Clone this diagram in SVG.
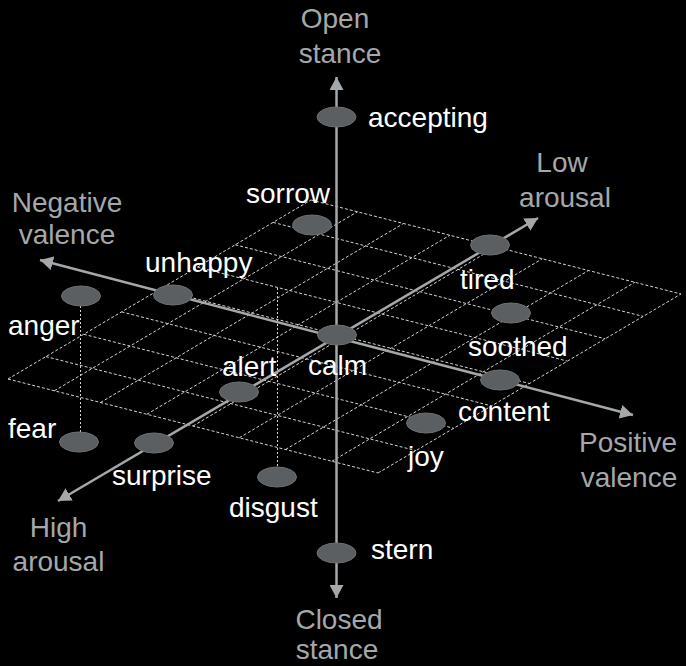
<svg xmlns="http://www.w3.org/2000/svg" width="686" height="666" viewBox="0 0 686 666">
<style>
.grid line{stroke:#d4d4d4;stroke-width:1;stroke-dasharray:3 2;fill:none}
.drop{stroke:#d4d4d4;stroke-width:1;stroke-dasharray:2 2;fill:none}
.axis{stroke:#a4a8aa;stroke-width:2.5;fill:none}
.node ellipse{fill:#5b5f62;stroke:#6c7073;stroke-width:1}
.lbl{font-family:"Liberation Sans",Arial,sans-serif;font-size:28px;fill:#ffffff}
.ax{font-family:"Liberation Sans",Arial,sans-serif;font-size:28px;fill:#a4a8aa;text-anchor:middle}
</style>
<defs>
<marker id="arr" viewBox="0 0 14 14" refX="13" refY="7" markerWidth="14" markerHeight="14" markerUnits="userSpaceOnUse" orient="auto-start-reverse">
<path d="M0,0 L13,7 L0,14 Z" fill="#a4a8aa"/>
</marker>
</defs>
<rect width="686" height="666" fill="#000000"/>
<g class="grid" id="grid">
<line x1="8" y1="379" x2="378" y2="473"/>
<line x1="45.9" y1="356.6" x2="415.9" y2="450.6"/>
<line x1="83.8" y1="334.3" x2="453.8" y2="428.3"/>
<line x1="121.6" y1="311.9" x2="491.6" y2="405.9"/>
<line x1="159.5" y1="289.5" x2="529.5" y2="383.5"/>
<line x1="197.4" y1="267.1" x2="567.4" y2="361.1"/>
<line x1="235.3" y1="244.8" x2="605.3" y2="338.8"/>
<line x1="273.1" y1="222.4" x2="643.1" y2="316.4"/>
<line x1="311" y1="200" x2="681" y2="294"/>
<line x1="8" y1="379" x2="311" y2="200"/>
<line x1="54.3" y1="390.8" x2="357.3" y2="211.8"/>
<line x1="100.5" y1="402.5" x2="403.5" y2="223.5"/>
<line x1="146.8" y1="414.3" x2="449.8" y2="235.3"/>
<line x1="193" y1="426" x2="496" y2="247"/>
<line x1="239.3" y1="437.8" x2="542.3" y2="258.8"/>
<line x1="285.5" y1="449.5" x2="588.5" y2="270.5"/>
<line x1="331.8" y1="461.3" x2="634.8" y2="282.3"/>
<line x1="378" y1="473" x2="681" y2="294"/>
</g>
<g id="connectors">
<line class="drop" x1="80.5" y1="306" x2="80.5" y2="432"/>
<line class="drop" x1="277.5" y1="288" x2="277.5" y2="467"/>
<line class="axis" x1="40" y1="260" x2="633" y2="415" marker-start="url(#arr)" marker-end="url(#arr)"/>
<line class="axis" x1="58" y1="501" x2="538" y2="218" marker-start="url(#arr)" marker-end="url(#arr)"/>
<line class="axis" x1="336.5" y1="598" x2="336.5" y2="77" marker-start="url(#arr)" marker-end="url(#arr)"/>
</g>
<g id="axis-open"><text class="ax" x="335" y="28">Open</text><text class="ax" x="340" y="63">stance</text></g>
<g id="axis-closed"><text class="ax" x="339" y="629">Closed</text><text class="ax" x="337" y="659">stance</text></g>
<g id="axis-negative"><text class="ax" x="67" y="212">Negative</text><text class="ax" x="67" y="244">valence</text></g>
<g id="axis-positive"><text class="ax" x="628" y="452">Positive</text><text class="ax" x="629" y="487">valence</text></g>
<g id="axis-low"><text class="ax" x="562" y="172">Low</text><text class="ax" x="565" y="207">arousal</text></g>
<g id="axis-high"><text class="ax" x="58.5" y="537">High</text><text class="ax" x="58.5" y="571">arousal</text></g>
<g class="node" id="accepting"><ellipse cx="336.5" cy="117" rx="19.5" ry="10"/><text class="lbl" x="368" y="127">accepting</text></g>
<g class="node" id="sorrow"><ellipse cx="312" cy="225" rx="19.5" ry="10"/><text class="lbl" x="246" y="203">sorrow</text></g>
<g class="node" id="unhappy"><ellipse cx="173" cy="295" rx="19.5" ry="10"/><text class="lbl" x="145" y="272">unhappy</text></g>
<g class="node" id="anger"><ellipse cx="81" cy="296" rx="19.5" ry="10"/><text class="lbl" x="8" y="335">anger</text></g>
<g class="node" id="calm"><ellipse cx="337" cy="335" rx="19.5" ry="10"/><text class="lbl" x="308" y="375">calm</text></g>
<g class="node" id="tired"><ellipse cx="490" cy="245" rx="19.5" ry="10"/><text class="lbl" x="460" y="289">tired</text></g>
<g class="node" id="soothed"><ellipse cx="511" cy="313" rx="19.5" ry="10"/><text class="lbl" x="468" y="356">soothed</text></g>
<g class="node" id="content"><ellipse cx="500" cy="380" rx="19.5" ry="10"/><text class="lbl" x="458" y="421">content</text></g>
<g class="node" id="joy"><ellipse cx="426" cy="423" rx="19.5" ry="10"/><text class="lbl" x="408" y="466">joy</text></g>
<g class="node" id="alert"><ellipse cx="239" cy="392" rx="19.5" ry="10"/><text class="lbl" x="222" y="376">alert</text></g>
<g class="node" id="fear"><ellipse cx="79" cy="442" rx="19.5" ry="10"/><text class="lbl" x="8" y="438">fear</text></g>
<g class="node" id="surprise"><ellipse cx="154" cy="443" rx="19.5" ry="10"/><text class="lbl" x="112" y="485">surprise</text></g>
<g class="node" id="disgust"><ellipse cx="277" cy="477" rx="19.5" ry="10"/><text class="lbl" x="229" y="517">disgust</text></g>
<g class="node" id="stern"><ellipse cx="336.5" cy="553" rx="19.5" ry="10"/><text class="lbl" x="371" y="559">stern</text></g>
</svg>
